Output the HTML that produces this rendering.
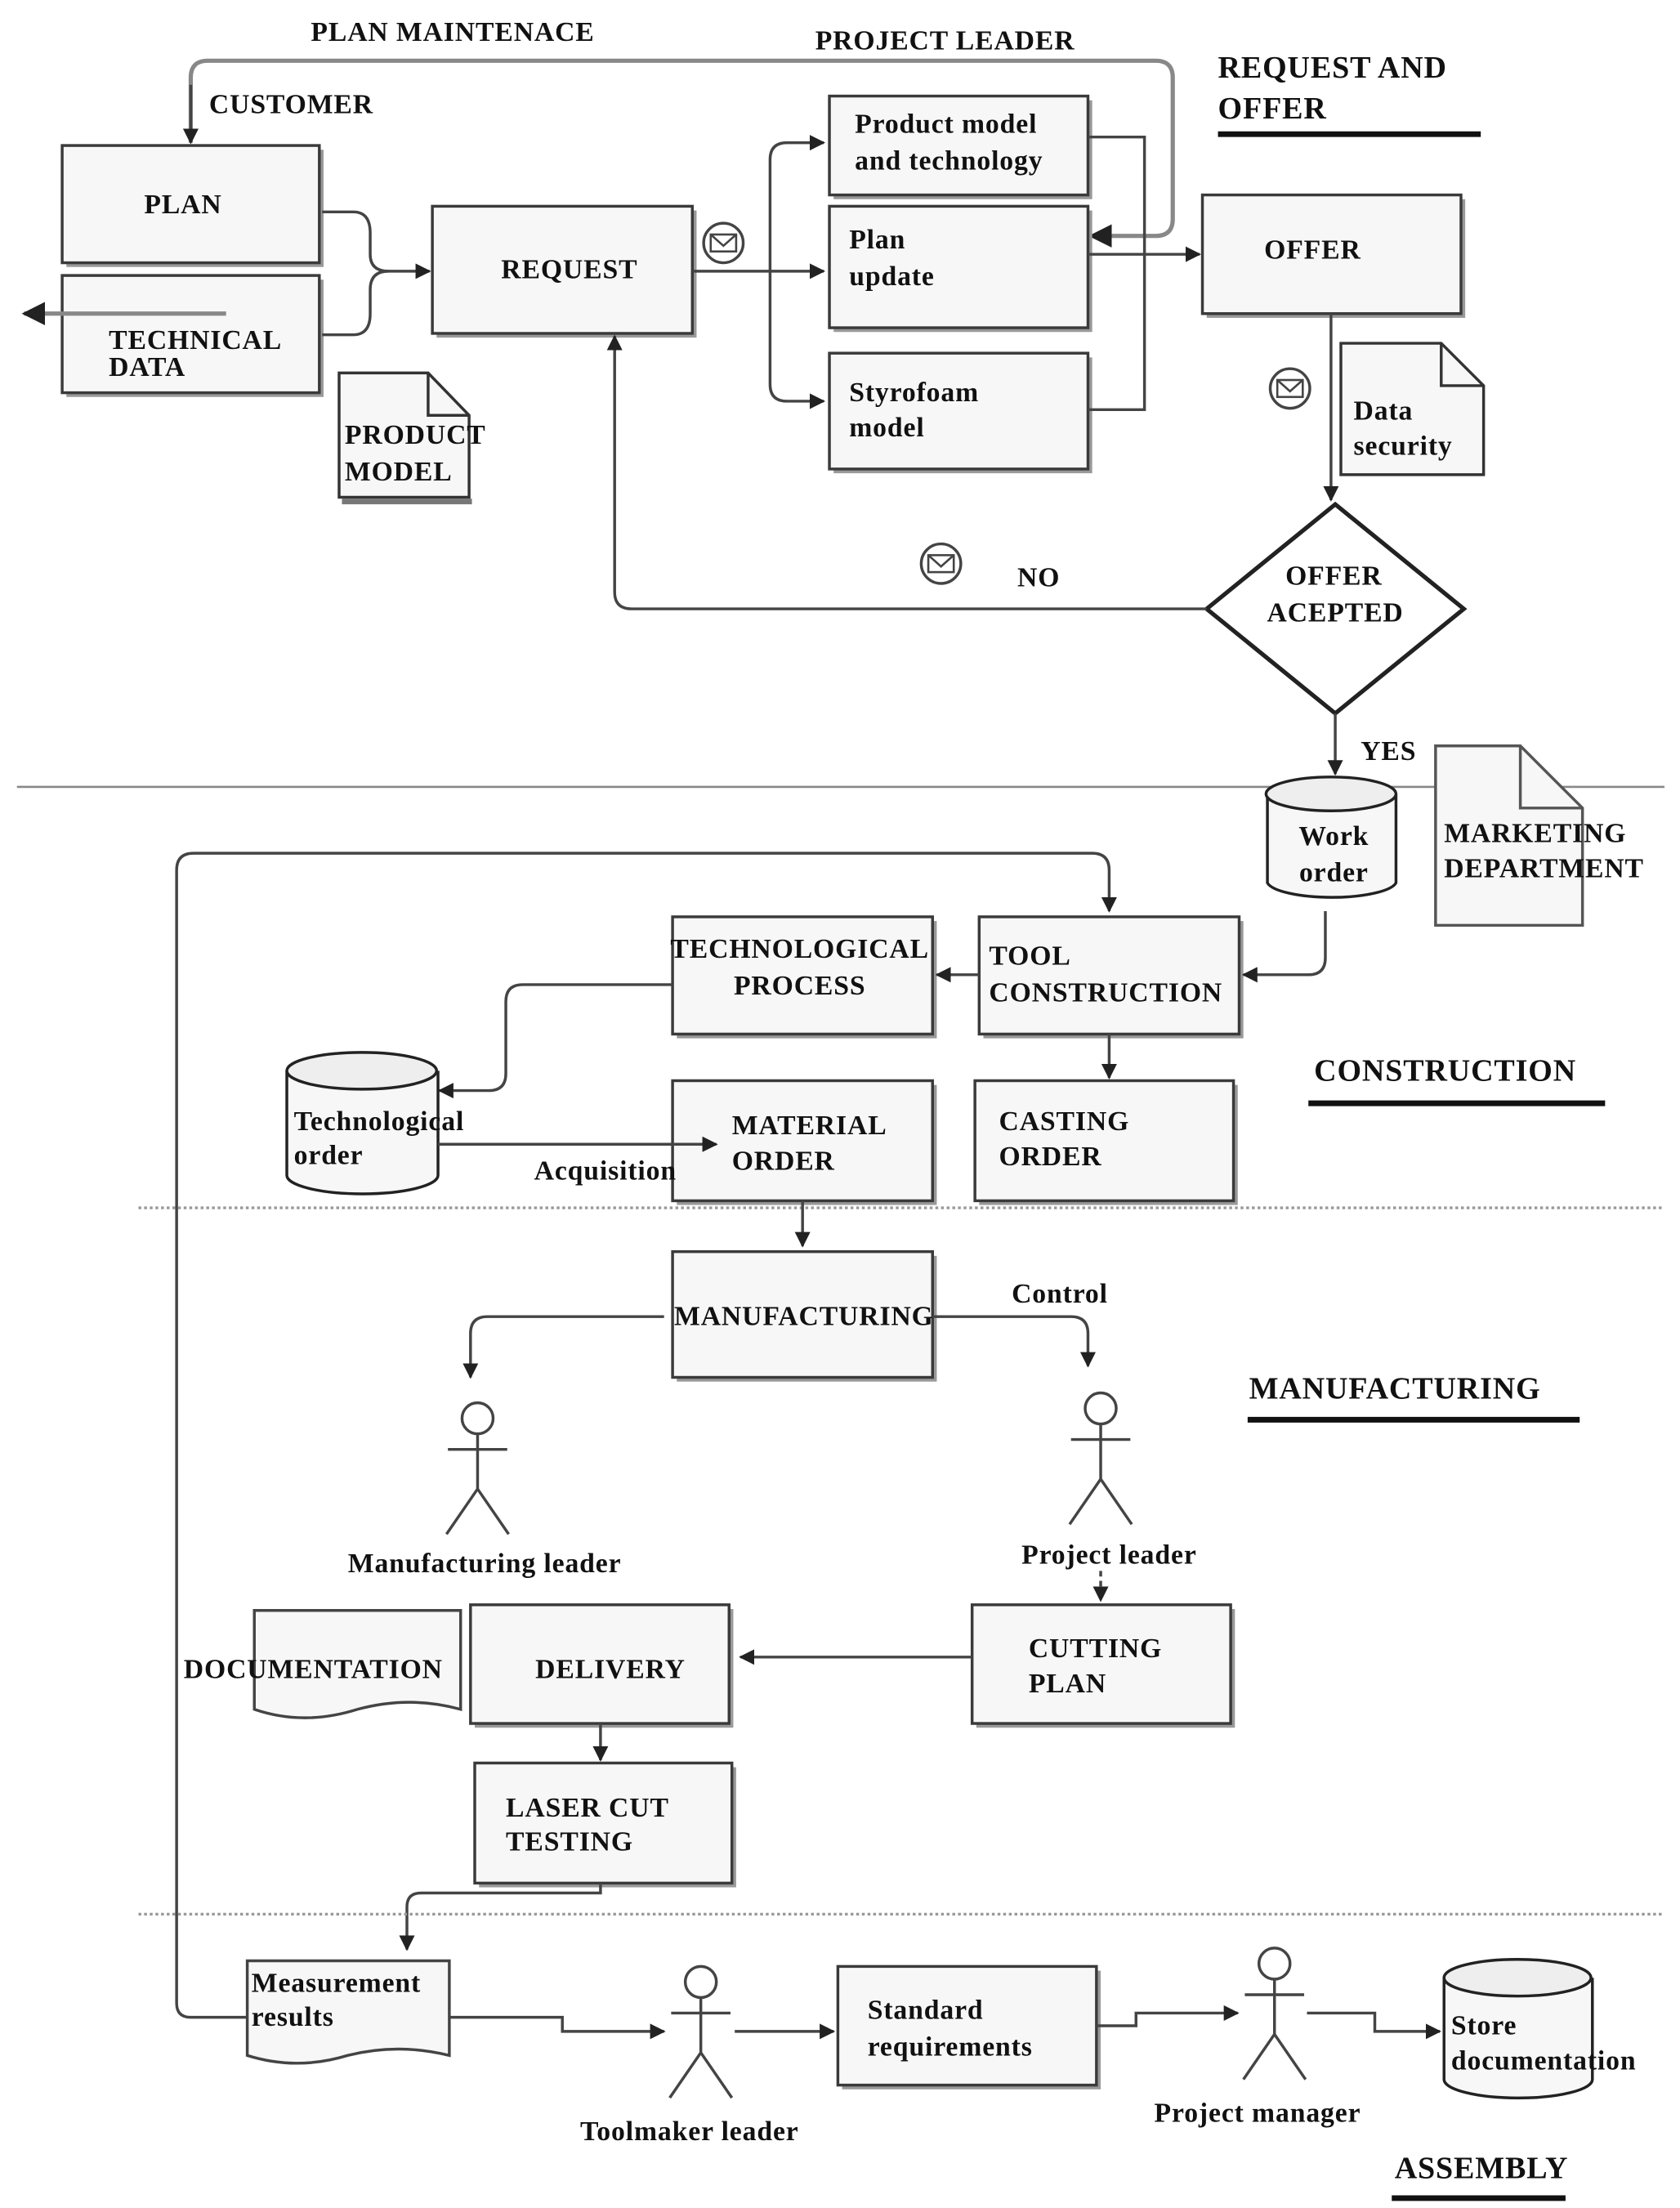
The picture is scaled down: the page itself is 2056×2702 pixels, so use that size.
<!DOCTYPE html>
<html><head><meta charset="utf-8"><style>
html,body{margin:0;padding:0;background:#fff;}
svg{display:block;}
text{font-family:"Liberation Serif",serif;font-weight:bold;font-size:19.5px;letter-spacing:0.5px;fill:#111;}
.bx{fill:#f7f7f7;stroke:#3a3a3a;stroke-width:2;}
.sh{fill:#999;}
.ln{fill:none;stroke:#444;stroke-width:2;}
.gl{fill:none;stroke:#888;stroke-width:3;}
.hd{font-size:22px;}
</style></head><body>
<svg width="2056" height="2702" viewBox="0 0 1189 1563" preserveAspectRatio="none" xmlns="http://www.w3.org/2000/svg">
<defs>
<marker id="a" viewBox="0 0 10 10" refX="9" refY="5" markerWidth="5.5" markerHeight="5.5" orient="auto-start-reverse"><path d="M0,0 L10,5 L0,10 z" fill="#222"/></marker>
<g id="env"><circle r="14" fill="#fff" stroke="#444" stroke-width="2"/><rect x="-9" y="-6" width="18" height="12" fill="none" stroke="#444" stroke-width="1.5"/><path d="M-9,-6 L0,2 L9,-6" fill="none" stroke="#444" stroke-width="1.5"/></g>
<g id="fig"><circle cx="0" cy="0" r="11" fill="#fff" stroke="#444" stroke-width="2"/><path d="M0,11 V50 M-21,22 H21 M0,50 L-22,82 M0,50 L22,82" class="ln"/></g>
</defs>

<text x="220" y="29">PLAN MAINTENACE</text>
<text x="577" y="35">PROJECT LEADER</text>
<text x="862" y="55" class="hd">REQUEST AND</text>
<text x="862" y="84" class="hd">OFFER</text>
<line x1="862" y1="95" x2="1048" y2="95" stroke="#111" stroke-width="4"/>
<text x="148" y="80">CUSTOMER</text>

<path d="M135,101 V55 Q135,43 147,43 H818 Q830,43 830,55 V155 Q830,167 818,167 H772" class="gl" marker-end="url(#a)"/>
<path d="M135,60 V101" class="ln" marker-end="url(#a)"/>

<rect class="sh" x="47" y="106" width="182" height="83"/>
<rect class="bx" x="44" y="103" width="182" height="83"/>
<text x="102" y="151">PLAN</text>
<rect class="sh" x="47" y="198" width="182" height="83"/>
<rect class="bx" x="44" y="195" width="182" height="83"/>
<text x="77" y="247">TECHNICAL</text>
<text x="77" y="266">DATA</text>
<path d="M160,222 H17" class="gl" marker-end="url(#a)"/>
<path d="M228,150 H250 Q262,150 262,165 V180 Q262,192 275,192 H304" class="ln" marker-end="url(#a)"/>
<path d="M228,237 H250 Q262,237 262,222 V205 Q262,192 275,192" class="ln"/>

<path d="M240,264 H303 L332,294 V352 H240 Z" fill="#f7f7f7" stroke="#333" stroke-width="2"/>
<path d="M303,264 V294 H332" fill="none" stroke="#333" stroke-width="2"/>
<line x1="242" y1="355" x2="334" y2="355" stroke="#777" stroke-width="4"/>
<text x="244" y="314">PRODUCT</text>
<text x="244" y="340">MODEL</text>

<rect class="sh" x="309" y="149" width="184" height="90"/>
<rect class="bx" x="306" y="146" width="184" height="90"/>
<text x="403" y="197" text-anchor="middle">REQUEST</text>
<use href="#env" x="512" y="172"/>
<path d="M490,192 H583" class="ln" marker-end="url(#a)"/>
<path d="M545,192 V113 Q545,101 557,101 H583" class="ln" marker-end="url(#a)"/>
<path d="M545,192 V272 Q545,284 557,284 H583" class="ln" marker-end="url(#a)"/>

<rect class="sh" x="590" y="71" width="183" height="70"/>
<rect class="bx" x="587" y="68" width="183" height="70"/>
<text x="605" y="94">Product model</text>
<text x="605" y="120">and technology</text>
<rect class="sh" x="590" y="149" width="183" height="86"/>
<rect class="bx" x="587" y="146" width="183" height="86"/>
<text x="601" y="176">Plan</text>
<text x="601" y="202">update</text>
<rect class="sh" x="590" y="253" width="183" height="82"/>
<rect class="bx" x="587" y="250" width="183" height="82"/>
<text x="601" y="284">Styrofoam</text>
<text x="601" y="309">model</text>
<path d="M770,97 H810 V290 H770" class="ln"/>
<path d="M770,180 H849" class="ln" marker-end="url(#a)"/>

<rect class="sh" x="854" y="141" width="183" height="84"/>
<rect class="bx" x="851" y="138" width="183" height="84"/>
<text x="929" y="183" text-anchor="middle">OFFER</text>
<use href="#env" x="913" y="275"/>
<path d="M942,222 V354" class="ln" marker-end="url(#a)"/>
<path d="M949,243 H1020 L1050,273 V336 H949 Z" fill="#f7f7f7" stroke="#333" stroke-width="2"/>
<path d="M1020,243 V273 H1050" fill="none" stroke="#333" stroke-width="2"/>
<text x="958" y="297">Data</text>
<text x="958" y="322">security</text>

<path d="M945,357 L1036,431 L945,505 L854,431 Z" fill="#fff" stroke="#222" stroke-width="3"/>
<text x="944" y="414" text-anchor="middle">OFFER</text>
<text x="945" y="440" text-anchor="middle">ACEPTED</text>
<path d="M854,431 H447 Q435,431 435,419 V238" class="ln" marker-end="url(#a)"/>
<text x="720" y="415">NO</text>
<use href="#env" x="666" y="399"/>
<path d="M945,505 V548" class="ln" marker-end="url(#a)"/>
<text x="963" y="538">YES</text>

<line x1="12" y1="557" x2="1178" y2="557" stroke="#888" stroke-width="1.5"/>

<path d="M897,562 V625 A46,12 0 0 0 988,625 V562" fill="#f7f7f7" stroke="#222" stroke-width="2"/>
<ellipse cx="942" cy="562" rx="46" ry="12" fill="#eee" stroke="#222" stroke-width="2"/>
<text x="944" y="598" text-anchor="middle">Work</text>
<text x="944" y="624" text-anchor="middle">order</text>

<path d="M1016,528 H1076 L1120,572 V655 H1016 Z" fill="#f7f7f7" stroke="#555" stroke-width="2"/>
<path d="M1076,528 V572 H1120" fill="none" stroke="#555" stroke-width="2"/>
<text x="1022" y="596">MARKETING</text>
<text x="1022" y="621">DEPARTMENT</text>

<path d="M175,1428 H135 Q125,1428 125,1418 V616 Q125,604 137,604 H773 Q785,604 785,616 V645" class="ln" marker-end="url(#a)"/>

<rect class="sh" x="696" y="652" width="184" height="83"/>
<rect class="bx" x="693" y="649" width="184" height="83"/>
<text x="700" y="683">TOOL</text>
<text x="700" y="709">CONSTRUCTION</text>
<path d="M938,645 V678 Q938,690 926,690 H880" class="ln" marker-end="url(#a)"/>

<rect class="sh" x="479" y="652" width="184" height="83"/>
<rect class="bx" x="476" y="649" width="184" height="83"/>
<text x="566" y="678" text-anchor="middle">TECHNOLOGICAL</text>
<text x="566" y="704" text-anchor="middle">PROCESS</text>
<path d="M693,690 H663" class="ln" marker-end="url(#a)"/>
<path d="M476,697 H370 Q358,697 358,709 V760 Q358,772 346,772 H311" class="ln" marker-end="url(#a)"/>

<path d="M203,758 V832 A53,13 0 0 0 310,832 V758" fill="#f7f7f7" stroke="#222" stroke-width="2"/>
<ellipse cx="256" cy="758" rx="53" ry="13" fill="#eee" stroke="#222" stroke-width="2"/>
<text x="208" y="800">Technological</text>
<text x="208" y="824">order</text>

<rect class="sh" x="479" y="768" width="184" height="85"/>
<rect class="bx" x="476" y="765" width="184" height="85"/>
<path d="M310,810 H507" class="ln" marker-end="url(#a)"/>
<text x="378" y="835">Acquisition</text>
<text x="518" y="803">MATERIAL</text>
<text x="518" y="828">ORDER</text>
<rect class="sh" x="693" y="768" width="183" height="85"/>
<rect class="bx" x="690" y="765" width="183" height="85"/>
<text x="707" y="800">CASTING</text>
<text x="707" y="825">ORDER</text>
<path d="M785,732 V763" class="ln" marker-end="url(#a)"/>

<text x="930" y="765" class="hd">CONSTRUCTION</text>
<line x1="926" y1="781" x2="1136" y2="781" stroke="#111" stroke-width="4"/>
<line x1="98" y1="855" x2="1178" y2="855" stroke="#999" stroke-width="2" stroke-dasharray="2,2"/>

<path d="M568,850 V882" class="ln" marker-end="url(#a)"/>
<rect class="sh" x="479" y="889" width="184" height="89"/>
<rect class="bx" x="476" y="886" width="184" height="89"/>
<path d="M470,932 H345 Q333,932 333,944 V975" class="ln" marker-end="url(#a)"/>
<path d="M660,932 H758 Q770,932 770,944 V967" class="ln" marker-end="url(#a)"/>
<text x="569" y="938" text-anchor="middle">MANUFACTURING</text>
<text x="716" y="922">Control</text>
<text x="884" y="990" class="hd">MANUFACTURING</text>
<line x1="883" y1="1005" x2="1118" y2="1005" stroke="#111" stroke-width="4"/>

<use href="#fig" x="338" y="1004"/>
<text x="343" y="1113" text-anchor="middle">Manufacturing leader</text>
<use href="#fig" x="779" y="997"/>
<text x="785" y="1107" text-anchor="middle">Project leader</text>
<path d="M779,1112 V1133" class="ln" stroke-dasharray="4,3" marker-end="url(#a)"/>

<rect class="sh" x="691" y="1139" width="183" height="84"/>
<rect class="bx" x="688" y="1136" width="183" height="84"/>
<text x="728" y="1173">CUTTING</text>
<text x="728" y="1198">PLAN</text>
<path d="M688,1173 H524" class="ln" marker-end="url(#a)"/>

<path d="M180,1140 H326 V1210 Q290,1200 253,1210 Q215,1222 180,1210 Z" fill="#f7f7f7" stroke="#444" stroke-width="2"/>
<rect class="sh" x="336" y="1139" width="183" height="84"/>
<rect class="bx" x="333" y="1136" width="183" height="84"/>
<text x="130" y="1188">DOCUMENTATION</text>
<text x="432" y="1188" text-anchor="middle">DELIVERY</text>
<path d="M425,1220 V1246" class="ln" marker-end="url(#a)"/>

<rect class="sh" x="339" y="1251" width="182" height="85"/>
<rect class="bx" x="336" y="1248" width="182" height="85"/>
<text x="358" y="1286">LASER CUT</text>
<text x="358" y="1310">TESTING</text>
<path d="M425,1333 V1340 H298 Q288,1340 288,1350 V1380" class="ln" marker-end="url(#a)"/>
<line x1="98" y1="1355" x2="1178" y2="1355" stroke="#999" stroke-width="2" stroke-dasharray="2,2"/>

<path d="M175,1388 H318 V1455 Q282,1446 246,1455 Q210,1466 175,1455 Z" fill="#f7f7f7" stroke="#444" stroke-width="2"/>
<text x="178" y="1410">Measurement</text>
<text x="178" y="1434">results</text>
<path d="M318,1428 H398 V1438 H470" class="ln" marker-end="url(#a)"/>
<use href="#fig" x="496" y="1403"/>
<text x="488" y="1515" text-anchor="middle">Toolmaker leader</text>
<path d="M520,1438 H590" class="ln" marker-end="url(#a)"/>

<rect class="sh" x="596" y="1395" width="183" height="84"/>
<rect class="bx" x="593" y="1392" width="183" height="84"/>
<text x="614" y="1429">Standard</text>
<text x="614" y="1455">requirements</text>
<path d="M776,1434 H804 V1425 H876" class="ln" marker-end="url(#a)"/>
<use href="#fig" x="902" y="1390"/>
<text x="890" y="1502" text-anchor="middle">Project manager</text>
<path d="M925,1425 H973 V1438 H1019" class="ln" marker-end="url(#a)"/>

<path d="M1022,1400 V1472 A52,13 0 0 0 1127,1472 V1400" fill="#f7f7f7" stroke="#222" stroke-width="2"/>
<ellipse cx="1074" cy="1400" rx="52" ry="13" fill="#eee" stroke="#222" stroke-width="2"/>
<text x="1027" y="1440">Store</text>
<text x="1027" y="1465">documentation</text>

<text x="987" y="1542" class="hd">ASSEMBLY</text>
<line x1="985" y1="1556" x2="1108" y2="1556" stroke="#111" stroke-width="4"/>
</svg>
</body></html>
